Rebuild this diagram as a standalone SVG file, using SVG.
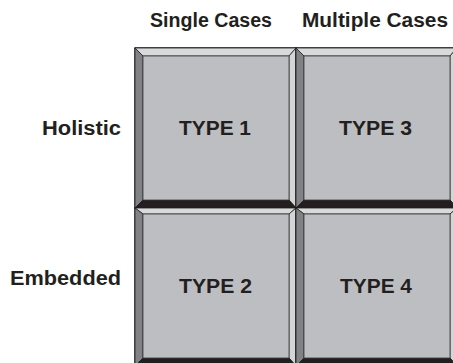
<svg xmlns="http://www.w3.org/2000/svg" width="453" height="363" viewBox="0 0 453 363">
<defs>
<style>
.face{fill:#bdbec2;stroke:#231f20;stroke-width:1.5}
.top{fill:#d9dadc;stroke:#231f20;stroke-width:0.8}
.left{fill:#808286;stroke:#231f20;stroke-width:0.8}
.right{fill:#d4d5d7;stroke:#231f20;stroke-width:0.8}
.bottom{fill:#231f20;stroke:#231f20;stroke-width:0.8}
.inner{fill:#bdbec2;stroke:#3a3a3c;stroke-width:0.8}
.lbl{font-family:"Liberation Sans",Arial,sans-serif;font-weight:bold;fill:#231f20}
.hdr{font-size:20px}
.typ{font-size:21px}
</style>
</defs>
<rect width="453" height="363" fill="#ffffff"/>
<g id="headers">
<text class="lbl hdr" x="150" y="27" textLength="122" lengthAdjust="spacingAndGlyphs">Single Cases</text>
<text class="lbl hdr" x="302" y="27" textLength="146" lengthAdjust="spacingAndGlyphs">Multiple Cases</text>
<text class="lbl hdr" x="42" y="135" textLength="79" lengthAdjust="spacingAndGlyphs">Holistic</text>
<text class="lbl hdr" x="10" y="285" textLength="111" lengthAdjust="spacingAndGlyphs">Embedded</text>
</g>
<g id="type1">
<rect class="face" x="135" y="48" width="161" height="160"/>
<polygon class="top" points="135,48 296,48 289,56 143,56"/>
<polygon class="left" points="135,48 143,56 143,200 135,208"/>
<polygon class="right" points="296,48 296,208 289,200 289,56"/>
<polygon class="bottom" points="135,208 296,208 289,200 143,200"/>
<rect class="inner" x="143" y="56" width="146" height="144"/>
<text class="lbl typ" x="179" y="135" textLength="72" lengthAdjust="spacingAndGlyphs">TYPE 1</text>
</g>
<g id="type3">
<rect class="face" x="296" y="48" width="161" height="160"/>
<polygon class="top" points="296,48 457,48 450,56 304,56"/>
<polygon class="left" points="296,48 304,56 304,200 296,208"/>
<polygon class="right" points="457,48 457,208 450,200 450,56"/>
<polygon class="bottom" points="296,208 457,208 450,200 304,200"/>
<rect class="inner" x="304" y="56" width="146" height="144"/>
<text class="lbl typ" x="339" y="135" textLength="73" lengthAdjust="spacingAndGlyphs">TYPE 3</text>
</g>
<g id="type2">
<rect class="face" x="135" y="208" width="161" height="158"/>
<polygon class="top" points="135,208 296,208 289,214 143,214"/>
<polygon class="left" points="135,208 143,214 143,358 135,366"/>
<polygon class="right" points="296,208 296,366 289,358 289,214"/>
<polygon class="bottom" points="135,366 296,366 289,358 143,358"/>
<rect class="inner" x="143" y="214" width="146" height="144"/>
<text class="lbl typ" x="179" y="293" textLength="73" lengthAdjust="spacingAndGlyphs">TYPE 2</text>
</g>
<g id="type4">
<rect class="face" x="296" y="208" width="161" height="158"/>
<polygon class="top" points="296,208 457,208 450,214 304,214"/>
<polygon class="left" points="296,208 304,214 304,358 296,366"/>
<polygon class="right" points="457,208 457,366 450,358 450,214"/>
<polygon class="bottom" points="296,366 457,366 450,358 304,358"/>
<rect class="inner" x="304" y="214" width="146" height="144"/>
<text class="lbl typ" x="340" y="293" textLength="72" lengthAdjust="spacingAndGlyphs">TYPE 4</text>
</g>
<g id="connectors"/>
</svg>
